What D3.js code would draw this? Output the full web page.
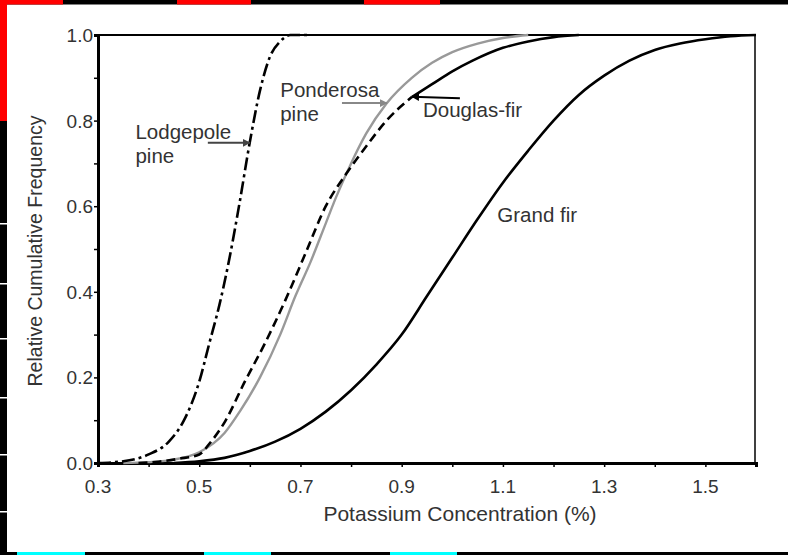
<!DOCTYPE html>
<html>
<head>
<meta charset="utf-8">
<script src="https://cdn.jsdelivr.net/npm/d3@7"></script>
<style>
  html, body { margin: 0; padding: 0; background: #fff; }
  svg { display: block; }
  text { font-family: Arial, "Liberation Sans", sans-serif; fill: #333; }
</style>
</head>
<body>
<svg id="chart" width="788" height="555"></svg>
<script>
// Cumulative frequency curves of foliar potassium concentration (%)
const lodgepoleX = [0.30, 0.35, 0.40, 0.44, 0.47, 0.50, 0.52, 0.54, 0.56, 0.58, 0.60, 0.62, 0.64, 0.66, 0.68, 0.72];
const lodgepoleY = [0.00, 0.004, 0.02, 0.05, 0.10, 0.19, 0.28, 0.37, 0.48, 0.61, 0.75, 0.87, 0.95, 0.985, 1.00, 1.00];

const ponderosaX = [0.35, 0.40, 0.45, 0.50, 0.55, 0.58, 0.62, 0.66, 0.69, 0.72, 0.75, 0.77, 0.80, 0.83, 0.87, 0.92, 0.96, 1.00, 1.05, 1.10, 1.15];
const ponderosaY = [0.00, 0.002, 0.008, 0.025, 0.07, 0.12, 0.20, 0.30, 0.39, 0.47, 0.56, 0.62, 0.70, 0.77, 0.84, 0.90, 0.935, 0.96, 0.98, 0.993, 1.00];

const douglasX = [0.38, 0.42, 0.46, 0.50, 0.52, 0.55, 0.59, 0.63, 0.67, 0.71, 0.75, 0.79, 0.83, 0.87, 0.92, 0.96, 1.00, 1.04, 1.10, 1.15, 1.20, 1.25];
const douglasY = [0.00, 0.003, 0.01, 0.02, 0.045, 0.095, 0.19, 0.28, 0.38, 0.49, 0.60, 0.675, 0.74, 0.80, 0.855, 0.885, 0.915, 0.94, 0.97, 0.985, 0.995, 1.00];

const grandFirX = [0.45, 0.50, 0.55, 0.60, 0.65, 0.70, 0.75, 0.80, 0.85, 0.90, 0.95, 1.00, 1.05, 1.10, 1.15, 1.20, 1.25, 1.30, 1.35, 1.40, 1.45, 1.50, 1.55, 1.60];
const grandFirY = [0.00, 0.004, 0.012, 0.028, 0.05, 0.08, 0.12, 0.17, 0.23, 0.30, 0.39, 0.48, 0.57, 0.655, 0.73, 0.80, 0.86, 0.905, 0.94, 0.965, 0.98, 0.99, 0.997, 1.00];

const xTickLabels = ["0.3", "0.5", "0.7", "0.9", "1.1", "1.3", "1.5"];
const yTickLabels = ["0.0", "0.2", "0.4", "0.6", "0.8", "1.0"];

// Species labels: text lines, text anchor, arrow start and arrow tip in data units
const labelLines = [["Lodgepole", "pine"], ["Ponderosa", "pine"], ["Douglas-fir"], ["Grand fir"]];
const labelAnchor = [[0.374, 0.757], [0.660, 0.855], [0.942, 0.808], [1.089, 0.563]];
const arrowFrom = [[0.517, 0.748], [0.782, 0.841], [1.015, 0.852], null];
const arrowTo = [[0.600, 0.748], [0.871, 0.841], [0.920, 0.856], null];

const svg = d3.select("#chart");
const W = 788, H = 555;
const plot = { left: 98, right: 756, top: 35, bottom: 463 };

const x = d3.scaleLinear().domain([0.3, 1.6]).range([plot.left, plot.right]);
const y = d3.scaleLinear().domain([0, 1]).range([plot.bottom, plot.top]);

// ---- decorative frame strips around the page ----
const frame = svg.append("g");
frame.append("rect").attr("x", 0).attr("y", 0).attr("width", W).attr("height", 4.5).attr("fill", "#000");
[[0, 63], [177, 251], [364, 440]].forEach(([a, b]) =>
  frame.append("rect").attr("x", a).attr("y", 0).attr("width", b - a).attr("height", 4.5).attr("fill", "#f00"));
frame.append("rect").attr("x", 0).attr("y", 0).attr("width", 7).attr("height", 553).attr("fill", "#000");
frame.append("rect").attr("x", 0).attr("y", 0).attr("width", 7).attr("height", 121).attr("fill", "#f00");
[223, 283, 338, 397, 454, 511].forEach(g =>
  frame.append("rect").attr("x", 0).attr("y", g).attr("width", 7).attr("height", 1.5).attr("fill", "#fff"));
frame.append("rect").attr("x", 0).attr("y", 552).attr("width", W).attr("height", 3).attr("fill", "#000");
[[17, 85], [204, 271], [390, 457]].forEach(([a, b]) =>
  frame.append("rect").attr("x", a).attr("y", 552).attr("width", b - a).attr("height", 3).attr("fill", "#0ff"));

// ---- plot box ----
svg.append("line").attr("x1", plot.left).attr("x2", plot.right).attr("y1", plot.top).attr("y2", plot.top)
  .attr("stroke", "#000").attr("stroke-width", 2);
svg.append("line").attr("x1", plot.right - 1).attr("x2", plot.right - 1).attr("y1", plot.top).attr("y2", plot.bottom)
  .attr("stroke", "#000").attr("stroke-width", 1.5);

// ---- axes ----
const xAxis = d3.axisBottom(x).tickValues(d3.range(3, 17).map(d => d / 10)).tickSize(4).tickFormat("");
const yAxis = d3.axisLeft(y).tickValues(d3.range(0, 11).map(d => d / 10)).tickSize(4).tickFormat("");

const gx = svg.append("g").attr("transform", `translate(0,${plot.bottom})`).call(xAxis);
const gy = svg.append("g").attr("transform", `translate(${plot.left},0)`).call(yAxis);
[gx, gy].forEach(g => {
  g.select(".domain").attr("stroke", "#000").attr("stroke-width", 3);
  g.selectAll(".tick line").attr("stroke", "#000").attr("stroke-width", 1.5);
});

svg.append("g").selectAll("text").data(xTickLabels).join("text")
  .attr("x", d => x(+d)).attr("y", plot.bottom + 30)
  .attr("text-anchor", "middle").attr("font-size", 19).text(d => d);

svg.append("g").selectAll("text").data(yTickLabels).join("text")
  .attr("x", plot.left - 5).attr("y", d => y(+d) + 7)
  .attr("text-anchor", "end").attr("font-size", 19).text(d => d);

svg.append("text").attr("x", 460).attr("y", 521).attr("text-anchor", "middle")
  .attr("font-size", 21).text("Potassium Concentration (%)");

svg.append("text").attr("transform", "translate(42,251) rotate(-90)").attr("text-anchor", "middle")
  .attr("font-size", 19.5).text("Relative Cumulative Frequency");

// ---- curves ----
const line = d3.line().x(d => x(d[0])).y(d => y(d[1])).curve(d3.curveMonotoneX);
const pts = (xs, ys) => xs.map((v, i) => [v, ys[i]]);

const curves = svg.append("g").attr("fill", "none").attr("stroke-linecap", "butt");

curves.append("path").attr("d", line(pts(grandFirX, grandFirY)))
  .attr("stroke", "#000").attr("stroke-width", 2.6);

curves.append("path").attr("d", line(pts(ponderosaX, ponderosaY)))
  .attr("stroke", "#999").attr("stroke-width", 2.4);

// Douglas-fir: dashed through the body, solid over the upper tail
const douglas = pts(douglasX, douglasY);
curves.append("path").attr("d", line(douglas.filter(d => d[0] <= 0.92)))
  .attr("stroke", "#000").attr("stroke-width", 2.6).attr("stroke-dasharray", "9,5");
curves.append("path").attr("d", line(douglas.filter(d => d[0] >= 0.92)))
  .attr("stroke", "#000").attr("stroke-width", 2.6);

curves.append("path").attr("d", line(pts(lodgepoleX, lodgepoleY)))
  .attr("stroke", "#000").attr("stroke-width", 2.6).attr("stroke-dasharray", "13,4,3,4");

// ---- species labels with arrows ----
const arrowColors = ["#444", "#888", "#000"];
const defs = svg.append("defs");
arrowColors.forEach((c, i) => {
  defs.append("marker").attr("id", "arr" + i).attr("viewBox", "0 0 10 10")
    .attr("refX", 9).attr("refY", 5).attr("markerWidth", 4).attr("markerHeight", 4)
    .attr("markerUnits", "strokeWidth").attr("orient", "auto")
    .append("path").attr("d", "M0,0L10,5L0,10z").attr("fill", c);
});

labelLines.forEach((lines, i) => {
  const [ax, ay] = labelAnchor[i];
  const t = svg.append("text").attr("font-size", 20.5);
  lines.forEach((s, k) => t.append("tspan").attr("x", x(ax)).attr("y", y(ay) + k * 23.5).text(s));
  if (arrowFrom[i]) {
    svg.append("line")
      .attr("x1", x(arrowFrom[i][0])).attr("y1", y(arrowFrom[i][1]))
      .attr("x2", x(arrowTo[i][0])).attr("y2", y(arrowTo[i][1]))
      .attr("stroke", arrowColors[i]).attr("stroke-width", 2)
      .attr("marker-end", `url(#arr${i})`);
  }
});
</script>
</body>
</html>
